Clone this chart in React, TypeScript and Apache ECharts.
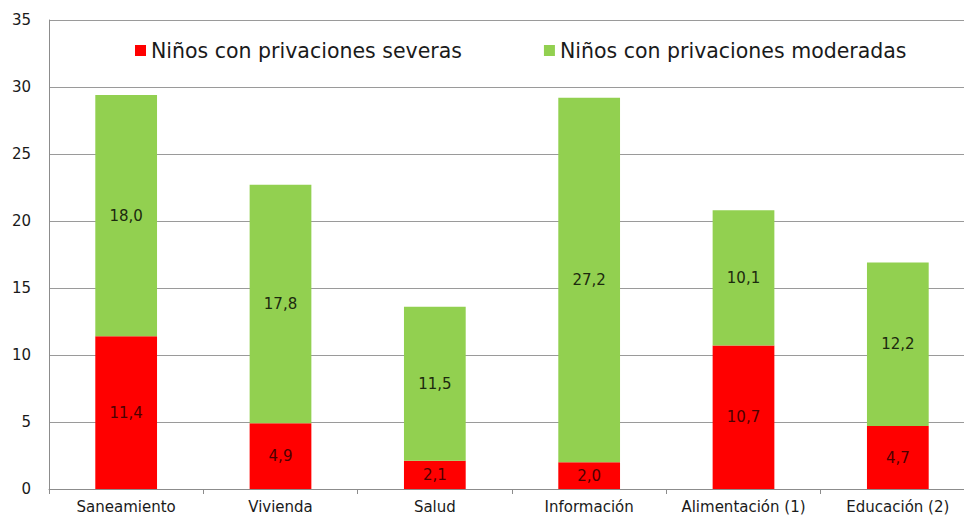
import React, { useEffect, useRef } from "react";
import * as echarts from "echarts";

const categories = ["Saneamiento", "Vivienda", "Salud", "Información", "Alimentación (1)", "Educación (2)"];
const severas = [11.4, 4.9, 2.1, 2.0, 10.7, 4.7];
const moderadas = [18.0, 17.8, 11.5, 27.2, 10.1, 12.2];
const seriesNames = ["Niños con privaciones severas", "Niños con privaciones moderadas"];

const FONT = "DejaVu Sans";
const fmt = (v: number) => v.toFixed(1).replace(".", ",");

export default function App() {
  const ref = useRef<HTMLDivElement>(null);
  useEffect(() => {
    if (!ref.current) return;
    const chart = echarts.init(ref.current, undefined, { renderer: "svg" });
    chart.setOption({
      animation: false,
      backgroundColor: "#ffffff",
      textStyle: { fontFamily: FONT },
      grid: { left: 49, right: 1, top: 20, bottom: 26, containLabel: false },
      legend: {
        left: 135,
        top: 40,
        padding: 0,
        itemWidth: 11,
        itemHeight: 11,
        itemGap: 82,
        icon: "rect",
        textStyle: { fontFamily: FONT, fontSize: 20.5, color: "#1a1a1a" },
        data: seriesNames,
      },
      xAxis: {
        type: "category",
        data: categories,
        axisLine: { show: true, lineStyle: { color: "#8c8c8c", width: 1 } },
        axisTick: { show: true, length: 5, lineStyle: { color: "#8c8c8c" } },
        axisLabel: { fontFamily: FONT, fontSize: 15, color: "#1a1a1a", margin: 10, interval: 0 },
      },
      yAxis: {
        type: "value",
        min: 0,
        max: 35,
        interval: 5,
        axisLine: { show: true, lineStyle: { color: "#8c8c8c", width: 1 } },
        axisTick: { show: false },
        axisLabel: { fontFamily: FONT, fontSize: 15, color: "#1a1a1a", margin: 18 },
        splitLine: { show: true, lineStyle: { color: "#9a9a9a", width: 1 } },
      },
      series: [
        {
          name: seriesNames[0],
          type: "bar",
          stack: "total",
          barWidth: "40%",
          data: severas,
          itemStyle: { color: "#ff0000" },
          label: {
            show: true,
            position: "inside",
            fontFamily: FONT,
            fontSize: 15,
            color: "#4d0000",
            formatter: (p: any) => fmt(p.value),
          },
        },
        {
          name: seriesNames[1],
          type: "bar",
          stack: "total",
          barWidth: "40%",
          data: moderadas,
          itemStyle: { color: "#92d050" },
          label: {
            show: true,
            position: "inside",
            fontFamily: FONT,
            fontSize: 15,
            color: "#1c2a0e",
            formatter: (p: any) => fmt(p.value),
          },
        },
      ],
    });
    return () => chart.dispose();
  }, []);
  return (
    <div style={{ position: "fixed", left: 0, top: 0, width: 964, height: 515, overflow: "hidden", background: "#fff" }}>
      <div ref={ref} style={{ position: "absolute", left: 0, top: 0, width: 976, height: 515 }} />
    </div>
  );
}
